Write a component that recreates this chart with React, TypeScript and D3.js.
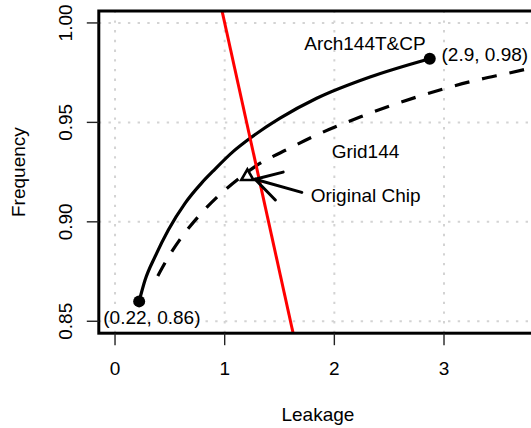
import React from "react";
import * as d3 from "d3";

// Arch144T&CP trade-off curve (solid)
const archLeakage = [0.22, 0.274, 0.365, 0.486, 0.638, 0.791, 0.896, 1.079, 1.231, 1.505, 1.839, 2.325, 2.87];
const archFrequency = [0.86, 0.8707, 0.8825, 0.8959, 0.9093, 0.9196, 0.9256, 0.9354, 0.942, 0.9521, 0.9621, 0.9728, 0.982];

// Grid144 trade-off curve (dashed)
const gridLeakage = [0.39, 0.526, 0.593, 0.759, 0.942, 1.14, 1.286, 1.596, 1.824, 2.234, 2.754, 3.301, 3.584, 3.85];
const gridFrequency = [0.8728, 0.8858, 0.8912, 0.9026, 0.913, 0.9222, 0.9281, 0.9371, 0.9433, 0.9527, 0.9628, 0.9713, 0.9747, 0.978];

// Original chip operating point
const originalChip = [1.207, 0.9228];
const arrowFrom = [1.703, 0.9148];
const arrowTo = [1.277, 0.9214];

// Iso-line: frequency = intercept + slope * leakage
const redIntercept = 1.25;
const redSlope = -0.25;

const xLimits = [0, 3.7];
const yLimits = [0.85, 1.0];
const xTicks = [0, 1, 2, 3];
const yTicks = [0.85, 0.9, 0.95, 1.0];

const W = 531;
const H = 428;
const plotLeft = 98.8;
const plotTop = 11;
const plotWidth = 438.2;
const plotHeight = 322.2;
const FONT = "'Liberation Sans', Arial, Helvetica, sans-serif";
const FS = 19;

const extend = (lim: number[]) => {
  const pad = (lim[1] - lim[0]) * 0.04;
  return [lim[0] - pad, lim[1] + pad];
};

export default function App() {
  const x = d3.scaleLinear().domain(extend(xLimits)).range([plotLeft, plotLeft + plotWidth]);
  const y = d3.scaleLinear().domain(extend(yLimits)).range([plotTop + plotHeight, plotTop]);
  const [x0, x1] = x.range();
  const [yb, yt] = y.range();

  const line = d3
    .line<[number, number]>()
    .x((d) => x(d[0]))
    .y((d) => y(d[1]))
    .curve(d3.curveMonotoneX);

  const archPts = archLeakage.map((v, i) => [v, archFrequency[i]] as [number, number]);
  const gridPts = gridLeakage.map((v, i) => [v, gridFrequency[i]] as [number, number]);

  const fmt = d3.format(".2");
  const pointLabel = (p: [number, number]) => `(${fmt(p[0])}, ${fmt(p[1])})`;
  const archStart = archPts[0];
  const archEnd = archPts[archPts.length - 1];

  // red iso-line endpoints across the x domain
  const [dx0, dx1] = x.domain();
  const redPts: [number, number][] = [
    [dx0, redIntercept + redSlope * dx0],
    [dx1, redIntercept + redSlope * dx1],
  ];

  // arrow head
  const tipX = x(arrowTo[0]);
  const tipY = y(arrowTo[1]);
  const tailX = x(arrowFrom[0]);
  const tailY = y(arrowFrom[1]);
  const ang = Math.atan2(tailY - tipY, tailX - tipX);
  const headLen = 29;
  const headAng = Math.PI / 6;
  const h1 = [tipX + headLen * Math.cos(ang - headAng), tipY + headLen * Math.sin(ang - headAng)];
  const h2 = [tipX + headLen * Math.cos(ang + headAng), tipY + headLen * Math.sin(ang + headAng)];

  // open triangle marker
  const triR = 7.1;
  const cx = x(originalChip[0]);
  const cy = y(originalChip[1]);
  const tri = [
    [cx, cy - triR],
    [cx + triR * 0.866, cy + triR / 2],
    [cx - triR * 0.866, cy + triR / 2],
  ];

  const gridStyle = { stroke: "#d3d3d3", strokeWidth: 2, strokeDasharray: "2.4 7.3", fill: "none" };

  return (
    <svg
      width={W}
      height={H}
      style={{ position: "absolute", left: 0, top: 0, display: "block", background: "#fff" }}
      fontFamily={FONT}
    >
      <defs>
        <clipPath id="plotArea">
          <rect x={x0} y={yt} width={x1 - x0} height={yb - yt} />
        </clipPath>
      </defs>

      {/* grid */}
      {xTicks.map((t) => (
        <line key={"gx" + t} x1={x(t)} x2={x(t)} y1={yb} y2={yt} style={gridStyle} />
      ))}
      {yTicks.map((t) => (
        <line key={"gy" + t} x1={x0} x2={x1} y1={y(t)} y2={y(t)} style={gridStyle} />
      ))}

      <g clipPath="url(#plotArea)">
        <path d={line(gridPts) || ""} fill="none" stroke="#000" strokeWidth={3.2} strokeDasharray="15 13" />
        <path d={line(archPts) || ""} fill="none" stroke="#000" strokeWidth={3.2} strokeLinecap="round" />
        <line
          x1={x(redPts[0][0])}
          y1={y(redPts[0][1])}
          x2={x(redPts[1][0])}
          y2={y(redPts[1][1])}
          stroke="#ff0000"
          strokeWidth={3}
        />
        <polygon points={tri.map((p) => p.join(",")).join(" ")} fill="none" stroke="#000" strokeWidth={2.6} />
        <line x1={tailX} y1={tailY} x2={tipX} y2={tipY} stroke="#000" strokeWidth={3} strokeLinecap="round" />
        <line x1={tipX} y1={tipY} x2={h1[0]} y2={h1[1]} stroke="#000" strokeWidth={3} strokeLinecap="round" />
        <line x1={tipX} y1={tipY} x2={h2[0]} y2={h2[1]} stroke="#000" strokeWidth={3} strokeLinecap="round" />
      </g>

      {/* end points */}
      {[archStart, archEnd].map((p, i) => (
        <circle key={"pt" + i} cx={x(p[0])} cy={y(p[1])} r={6} fill="#000" />
      ))}

      {/* annotations */}
      <g fontSize={FS} fill="#000">
        <text x={x(2.279)} y={y(0.9897)} dy="0.35em" textAnchor="middle">Arch144T&amp;CP</text>
        <text x={x(2.284)} y={y(0.9353)} dy="0.35em" textAnchor="middle">Grid144</text>
        <text x={x(1.785)} y={y(0.9135)} dy="0.35em" textAnchor="start">Original Chip</text>
        <text x={x(2.977)} y={y(0.98396)} dy="0.35em" textAnchor="start">{pointLabel(archEnd)}</text>
        <text x={x(-0.107)} y={y(0.8518)} dy="0.35em" textAnchor="start">{pointLabel(archStart)}</text>
      </g>

      {/* frame */}
      <rect x={x0} y={yt} width={x1 - x0} height={yb - yt} fill="none" stroke="#000" strokeWidth={3} />

      {/* x axis */}
      {xTicks.map((t) => (
        <g key={"xt" + t}>
          <line x1={x(t)} x2={x(t)} y1={yb} y2={yb + 12} stroke="#222" strokeWidth={1.4} />
          <text x={x(t)} y={375} textAnchor="middle" fontSize={FS}>
            {t}
          </text>
        </g>
      ))}
      {/* y axis */}
      {yTicks.map((t) => (
        <g key={"yt" + t}>
          <line x1={x0 - 12} x2={x0} y1={y(t)} y2={y(t)} stroke="#222" strokeWidth={1.4} />
          <text transform={`translate(72,${y(t)}) rotate(-90)`} textAnchor="middle" fontSize={FS}>
            {d3.format(".2f")(t)}
          </text>
        </g>
      ))}

      <text x={(x0 + x1) / 2} y={421} textAnchor="middle" fontSize={FS}>
        Leakage
      </text>
      <text transform={`translate(25.3,${(yt + yb) / 2}) rotate(-90)`} textAnchor="middle" fontSize={FS}>
        Frequency
      </text>
    </svg>
  );
}
